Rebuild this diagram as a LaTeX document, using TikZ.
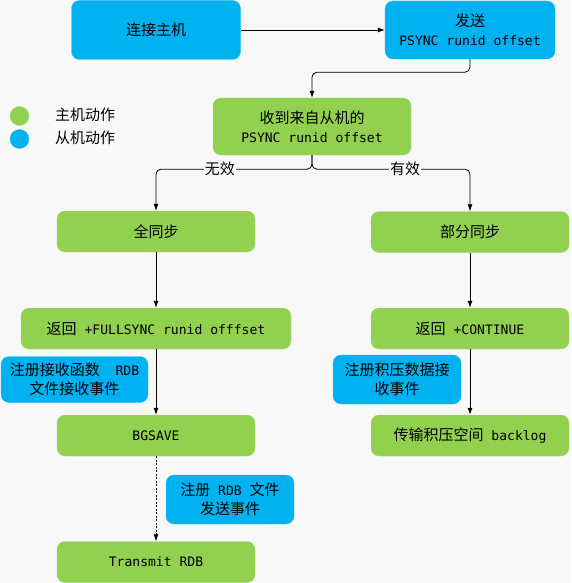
\documentclass[tikz,border=0pt]{standalone}
\usepackage{fontspec}
\setmainfont{DejaVu Sans Mono}[Scale=0.87]
\newfontfamily\cjkfont{Noto Sans CJK SC}
\usetikzlibrary{arrows.meta}
\definecolor{slaveblue}{RGB}{0,178,240}
\definecolor{mastergreen}{RGB}{146,208,80}
\definecolor{bggray}{RGB}{248,248,248}
\newcommand{\zh}[1]{{\cjkfont #1}}
\tikzstyle{action}=[rectangle,rounded corners=8pt,inner sep=0pt,align=center,font=\fontsize{15}{19}\selectfont]
\tikzstyle{master}=[action,fill=mastergreen,draw=mastergreen!80!white]
\tikzstyle{slave}=[action,fill=slaveblue,draw=slaveblue!80!white]
\tikzstyle{edge} = [draw,line width=0.8pt,-{Latex[length=7pt,width=5pt]}]
\tikzstyle{dot}=[circle,minimum size=19pt,inner sep=0pt]
\tikzstyle{choice}=[fill=bggray,inner sep=1pt,font=\fontsize{15}{19}\selectfont]

\begin{document}
\begin{tikzpicture}[x=1pt,y=-1pt]
    \fill[bggray] (0,0) rectangle (571,583);
    \useasboundingbox (0,0) rectangle (571,583);

    % Legend
    \node[dot,fill=mastergreen,draw=mastergreen!80!white] (mdot) at (19.5,116) {};
    \node[dot,fill=slaveblue,draw=slaveblue!80!white] (sdot) at (19.5,139) {};
    \node[anchor=west,font=\fontsize{15}{19}\selectfont,inner sep=0pt] (mlabel) at (55,115) {\zh{主机动作}};
    \node[anchor=west,font=\fontsize{15}{19}\selectfont,inner sep=0pt] (slabel) at (55,138) {\zh{从机动作}};

    % Slave handshake
    \node[slave,minimum width=169pt,minimum height=59pt] (conn) at (156,30) {\zh{连接主机}};
    \node[slave,minimum width=170pt,minimum height=58pt] (send) at (470,30) {\zh{发送}\\PSYNC runid offset};
    \node[master,minimum width=198pt,minimum height=57pt] (recv) at (312,126.5) {\zh{收到来自从机的}\\PSYNC runid offset};

    % Full sync column
    \node[master,minimum width=198pt,minimum height=41pt] (full) at (156,231.5) {\zh{全同步}};
    \node[master,minimum width=270pt,minimum height=41pt] (fullret) at (156,328.5) {\zh{返回} +FULLSYNC runid offfset};
    \node[slave,minimum width=147pt,minimum height=46pt] (regrecv) at (74.5,379.5) {\zh{注册接收函数}~~RDB\\\zh{文件接收事件}};
    \node[master,minimum width=198pt,minimum height=41pt] (bgsave) at (156,435.5) {BGSAVE};
    \node[slave,minimum width=128pt,minimum height=49pt] (regsend) at (230,499.5) {\zh{注册} RDB \zh{文件}\\\zh{发送事件}};
    \node[master,minimum width=198pt,minimum height=41pt] (transmit) at (156,562) {Transmit RDB};

    % Partial sync column
    \node[master,minimum width=198pt,minimum height=41pt] (part) at (470,232) {\zh{部分同步}};
    \node[master,minimum width=198pt,minimum height=41pt] (partret) at (470,328.5) {\zh{返回} +CONTINUE};
    \node[slave,minimum width=128pt,minimum height=49pt] (regbacklog) at (397,379.5) {\zh{注册积压数据接}\\\zh{收事件}};
    \node[master,minimum width=198pt,minimum height=41pt] (backlog) at (470,435.5) {\zh{传输积压空间} backlog};

    % Connect the steps
    \path[edge] (conn) -- (send);
    \path[edge,rounded corners=5pt] (send.south) -- ++(0,13) -| (recv.north);
    \path[edge,rounded corners=5pt] (recv.south) -- ++(0,14) -| node[choice,pos=0.295] {\zh{无效}} (full.north);
    \path[edge,rounded corners=5pt] (recv.south) -- ++(0,14) -| node[choice,pos=0.295] {\zh{有效}} (part.north);

    \foreach \source/ \dest in {full/fullret, fullret/bgsave, part/partret, partret/backlog}
        \path[edge] (\source) -- (\dest);

    \path[edge,dash pattern=on 2pt off 1.5pt] (bgsave) -- (transmit);
\end{tikzpicture}
\end{document}
